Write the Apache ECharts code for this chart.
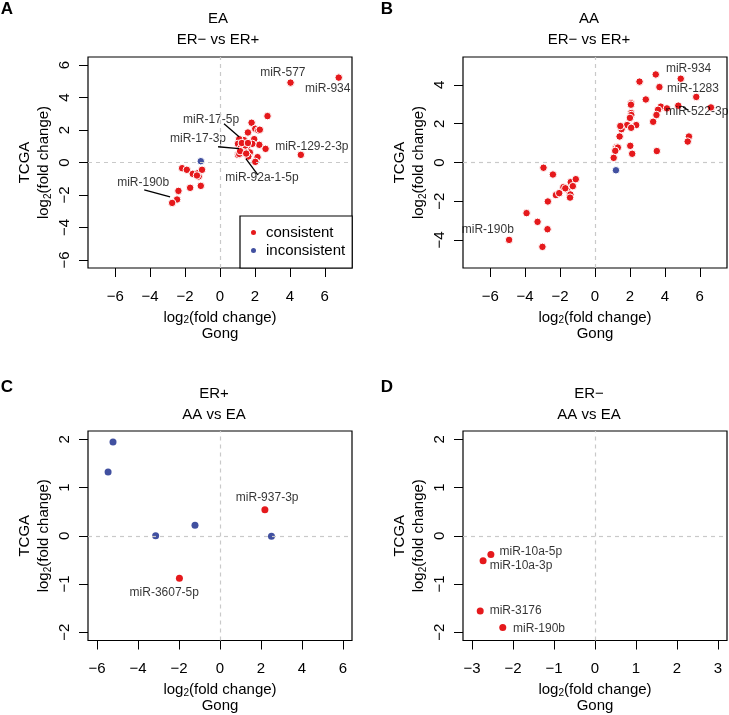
<!DOCTYPE html>
<html><head><meta charset="utf-8">
<script src="https://cdn.jsdelivr.net/npm/echarts@6/dist/echarts.min.js"></script>
<style>html,body{margin:0;padding:0;background:#fff}#c{width:729px;height:715px}</style>
</head><body><div id="c"></div>
<script>
// ---------- DATA ----------
const aConsistent = [
  [4.04,4.92],[6.80,5.23],[4.63,0.47],[2.72,2.86],[1.81,2.45],[2.02,2.08],[2.19,1.98],[2.28,2.02],
  [1.60,1.85],[1.96,1.44],[1.37,1.38],[1.10,1.44],[2.25,1.09],[2.61,0.84],[1.85,1.15],[1.03,1.15],
  [1.18,0.88],[1.52,0.93],[1.39,0.74],[1.03,0.47],[1.30,0.62],[1.71,0.62],[2.15,0.33],[2.02,0.04],
  [1.62,0.37],[1.10,0.53],[1.45,1.05],[1.25,1.20],[1.60,1.20],[1.15,0.70],[1.50,0.55],
  [-2.17,-0.35],[-1.90,-0.45],[-1.56,-0.70],[-1.26,-0.66],[-1.03,-0.45],[-1.22,-0.86],[-1.32,-0.80],
  [-1.71,-1.56],[-1.10,-1.44],[-2.38,-1.75],[-2.46,-2.28],[-2.74,-2.49]
];
const aInconsistent = [[-1.10,0.08]];

const bConsistent = [
  [-4.92,-3.99],[-3.01,-4.35],[-2.72,-3.44],[-3.29,-3.06],[-3.92,-2.61],[-2.70,-2.01],[-2.95,-0.27],
  [-2.41,-0.62],[-2.24,-1.68],[-2.05,-1.58],[-1.81,-1.27],[-1.62,-1.38],[-1.39,-1.01],[-1.10,-0.86],
  [-1.27,-1.22],[-1.41,-1.65],[-1.43,-1.81],[-1.70,-1.33],
  [3.48,4.54],[2.55,4.17],[4.91,4.32],[3.69,3.89],[5.80,3.38],[2.91,3.25],[2.07,3.05],[2.06,2.98],
  [3.77,2.88],[4.12,2.79],[4.77,2.93],[6.64,2.84],[3.61,2.72],[3.52,2.45],[2.07,2.55],[2.08,2.45],
  [2.00,2.30],[3.33,2.10],[2.36,1.93],[1.84,1.93],[1.52,1.72],[2.07,1.79],[1.45,1.88],[1.41,1.34],
  [5.38,1.34],[5.31,1.08],[1.22,0.79],[1.20,0.72],[1.31,0.77],[2.02,0.86],[3.54,0.59],[1.16,0.60],
  [2.13,0.45],[1.07,0.24]
];
const bInconsistent = [[1.20,-0.40]];

const cConsistent = [[2.19,0.54],[-1.98,-0.88]];
const cInconsistent = [[-5.22,1.94],[-5.46,1.32],[-3.14,0.00],[-1.22,0.22],[2.51,-0.01]];

const dConsistent = [[-2.54,-0.39],[-2.73,-0.52],[-2.80,-1.56],[-2.25,-1.90]];
const dInconsistent = [];

const xTicksWide = [-6,-4,-2,0,2,4,6];
const xTicksD = [-3,-2,-1,0,1,2,3];
const yTicksA = [-6,-4,-2,0,2,4,6];
const yTicksB = [-4,-2,0,2,4];
const yTicksCD = [-2,-1,0,1,2];

const panelLetters = ['A','B','C','D'];
const panelTitles = [['EA','ER\u2212 vs ER+'],['AA','ER\u2212 vs ER+'],['ER+','AA vs EA'],['ER\u2212','AA vs EA']];
const legendNames = ['consistent','inconsistent'];

// annotation text: [label, x, y] in data units
const aLabels = [['miR-577',3.6,5.54],['miR-934',6.17,4.55],['miR-17-5p',-0.51,2.64],['miR-17-3p',-1.26,1.46],
  ['miR-129-2-3p',5.26,0.97],['miR-92a-1-5p',2.4,-0.94],['miR-190b',-4.4,-1.25]];
const aLeaders = [[[0.23,2.39],[1.09,1.59]],[[-0.11,0.97],[1.09,0.85]],[[1.49,0.23],[2.17,-0.76]],[[-4.34,-1.69],[-2.86,-2.12]]];
const bLabels = [['miR-934',5.36,4.84],['miR-1283',5.61,3.79],['miR-522-3p',5.84,2.60],['miR-190b',-6.14,-3.44]];
const bLeaders = [[[5.04,2.86],[5.36,2.69]]];
const cLabels = [['miR-937-3p',2.3,0.78],['miR-3607-5p',-2.72,-1.18]];
const cLeaders = [];
const dLabels = [['miR-10a-5p',-2.33,-0.34],['miR-10a-3p',-2.57,-0.62],['miR-3176',-2.57,-1.55],['miR-190b',-2.0,-1.92]];
const dLeaders = [];

// ---------- LAYOUT / STYLE ----------
const FONT = '"Liberation Sans", Arial, Helvetica, sans-serif';
const RED = '#E5191C', BLUE = '#4150A0', TXT = '#000';
const grids = [
  {left:88, top:57, width:264, height:211},
  {left:463, top:57, width:264, height:211},
  {left:88, top:431, width:264, height:212},
  {left:463, top:431, width:264, height:212}
];
const xRanges = [[-7.56,7.56],[-7.56,7.56],[-6.44,6.44],[-3.22,3.22]];
const yRanges = [[-6.5,6.5],[-5.44,5.44],[-2.17,2.17],[-2.17,2.17]];
const xTicks = [xTicksWide,xTicksWide,xTicksWide,xTicksD];
const yTicks = [yTicksA,yTicksB,yTicksCD,yTicksCD];
const cons = [aConsistent,bConsistent,cConsistent,dConsistent];
const incons = [aInconsistent,bInconsistent,cInconsistent,dInconsistent];
const labels = [aLabels,bLabels,cLabels,dLabels];
const leaders = [aLeaders,bLeaders,cLeaders,dLeaders];
const titleX = [218,589,214,589];
const titleY = [18.5,18.5,393.5,393.5];
const letterPos = [[7,9],[387,9],[7,387],[387,387]];
const labelAlignLeft = [false,false,false,true];
const ptSize = [7.5,7.5,7,7];

const fmt = v => (v < 0 ? '\u2212' + Math.abs(v) : String(v));
const richName = {
  n:{fontSize:15, lineHeight:16, fontFamily:FONT, color:TXT},
  s:{fontSize:10, lineHeight:10, fontFamily:FONT, color:TXT, verticalAlign:'bottom'}
};

const xAxis = [], yAxis = [], series = [], graphic = [];
for (let i = 0; i < 4; i++) {
  xAxis.push({
    type:'value', gridIndex:i, min:xRanges[i][0], max:xRanges[i][1],
    splitLine:{show:false}, axisLine:{show:false, onZero:false},
    axisTick:{show:true, length:9, lineStyle:{color:'#000'}, customValues:xTicks[i]},
    axisLabel:{customValues:xTicks[i], formatter:fmt, fontSize:15, fontFamily:FONT, color:TXT, margin:21},
    name:'{n|log}{s|2}{n|(fold change)}\n{n|Gong}', nameLocation:'middle', nameGap:41.5,
    nameTextStyle:{fontSize:15, fontFamily:FONT, color:TXT, lineHeight:16, rich:richName}
  });
  yAxis.push({
    type:'value', gridIndex:i, min:yRanges[i][0], max:yRanges[i][1],
    splitLine:{show:false}, axisLine:{show:false, onZero:false},
    axisTick:{show:true, length:9, lineStyle:{color:'#000'}, customValues:yTicks[i]},
    axisLabel:{customValues:yTicks[i], formatter:fmt, rotate:90, fontSize:15, fontFamily:FONT, color:TXT, margin:16},
    name:'{n|TCGA}\n{n|log}{s|2}{n|(fold change)}', nameLocation:'middle', nameGap:35, nameRotate:90,
    nameTextStyle:{fontSize:15, fontFamily:FONT, color:TXT, lineHeight:19, rich:{
      n:{fontSize:15, lineHeight:19, fontFamily:FONT, color:TXT},
      s:{fontSize:10, lineHeight:12, fontFamily:FONT, color:TXT, verticalAlign:'bottom'}}}
  });
  // zero reference lines
  series.push({
    type:'scatter', xAxisIndex:i, yAxisIndex:i, data:[], z:1, silent:true,
    markLine:{silent:true, symbol:['none','none'], label:{show:false}, animation:false,
      lineStyle:{type:[4,4], color:'#c9c9c9', width:1.2},
      data:[{xAxis:0},{yAxis:0}]}
  });
  const bw = i < 2 ? 1 : 0;
  series.push({
    name:'consistent', type:'scatter', xAxisIndex:i, yAxisIndex:i, data:cons[i], z:3,
    symbolSize:ptSize[i], itemStyle:{color:RED, borderColor:'#fff', borderWidth:bw, opacity:1}
  });
  series.push({
    name:'inconsistent', type:'scatter', xAxisIndex:i, yAxisIndex:i, data:incons[i], z:3,
    symbolSize:ptSize[i], itemStyle:{color:BLUE, borderColor:'#fff', borderWidth:bw, opacity:1}
  });
  // annotations
  series.push({
    type:'scatter', xAxisIndex:i, yAxisIndex:i, z:4, silent:true, symbolSize:0,
    data:labels[i].map(l => ({name:l[0], value:[l[1], l[2]]})),
    label:{show:true, position:'inside', formatter:'{b}', fontSize:12, fontFamily:FONT, color:'#000',
      textBorderWidth:0, align: labelAlignLeft[i] ? 'left' : 'center', verticalAlign:'middle'},
    labelLayout:{hideOverlap:false},
    markLine: leaders[i].length ? {silent:true, symbol:['none','none'], label:{show:false}, animation:false,
      lineStyle:{type:'solid', color:'#000', width:1.3},
      data: leaders[i].map(s => [{coord:s[0]},{coord:s[1]}])} : undefined
  });
  // titles and panel letters
  panelTitles[i].forEach((t, k) => graphic.push({
    type:'text', x:titleX[i], y:titleY[i] + k*21,
    style:{text:t, fontSize:15, fontFamily:FONT, fill:TXT, align:'center', verticalAlign:'middle'}
  }));
  graphic.push({type:'text', x:letterPos[i][0], y:letterPos[i][1],
    style:{text:panelLetters[i], fontSize:17, fontWeight:'bold', fontFamily:FONT, fill:'#000', align:'center', verticalAlign:'middle'}});
}

const chart = echarts.init(document.getElementById('c'), null, {renderer:'canvas'});
chart.setOption({
  animation:false,
  backgroundColor:'#fff',
  grid: grids.map(g => Object.assign({show:true, borderColor:'#000', borderWidth:1.2, backgroundColor:'transparent'}, g)),
  xAxis, yAxis, series, graphic,
  legend:{
    data:legendNames, orient:'vertical', left:240, top:216,
    padding:[9,7,10,9], itemGap:3, itemWidth:7, itemHeight:7,
    borderColor:'#000', borderWidth:1.2, backgroundColor:'#fff',
    textStyle:{fontSize:15, fontFamily:FONT, color:TXT, padding:[0,0,0,4]},
    selectedMode:false
  }
});
</script></body></html>
